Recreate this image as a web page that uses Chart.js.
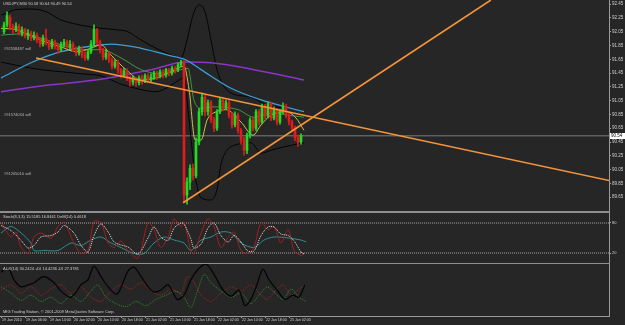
<!DOCTYPE html>
<html>
<head>
<meta charset="utf-8">
<script src="https://cdn.jsdelivr.net/npm/chart.js@4.4.1/dist/chart.umd.min.js"></script>
<style>
  html, body { margin: 0; padding: 0; background: #262626; }
  #wrap { position: relative; width: 625px; height: 325px; background: #262626; overflow: hidden;
          font-family: "Liberation Sans", Arial, sans-serif; }
  canvas { position: absolute; left: 0; }
  .sep { position: absolute; left: 0; width: 610px; background: #8e8e8e; }
  .txt { position: absolute; color: #cfcfcf; white-space: nowrap; font-size: 4px; line-height: 5px; }
</style>
</head>
<body>
<div id="wrap">
  <canvas id="mainChart" width="625" height="211" style="top:0px"></canvas>
  <div class="sep" style="top:211px;height:2px"></div>
  <canvas id="stochChart" width="625" height="50" style="top:213px"></canvas>
  <div class="sep" style="top:263px;height:1px"></div>
  <canvas id="adxChart" width="625" height="61" style="top:264px"></canvas>

  <div class="txt" style="left:3px;top:1px">USDJPY,M30 90.58 90.64 90.49 90.54</div>
  <div class="txt" style="left:4px;top:46px;color:#b8b8b8">#92558487 sell</div>
  <div class="txt" style="left:4px;top:112px;color:#b8b8b8">#91574034 sell</div>
  <div class="txt" style="left:4px;top:171px;color:#b8b8b8">#91205010 sell</div>
  <div class="txt" style="left:3px;top:214px">Stoch(8,3,3) 15.5185 16.8461 DeM(14) 0.4618</div>
  <div class="txt" style="left:3px;top:266px">ADX(14) 30.2424 +DI 14.4236 -DI 27.3781</div>
  <div class="txt" style="left:3px;top:309px">MIG Trading Station, © 2001-2009 MetaQuotes Software Corp.</div>
</div>
<script>
// --- data ---
const xTickLabels = ["19 Jan 2010", "19 Jan 06:00", "19 Jan 14:00", "20 Jan 02:00", "20 Jan 10:00",
  "20 Jan 18:00", "21 Jan 02:00", "21 Jan 10:00", "21 Jan 18:00", "22 Jan 02:00", "22 Jan 10:00",
  "22 Jan 18:00", "25 Jan 02:00"];
const BARS_PER_LABEL = 8;
const priceTicks = [92.45, 92.25, 92.05, 91.85, 91.65, 91.45, 91.25, 91.05, 90.85, 90.65, 90.45,
  90.25, 90.05, 89.85, 89.65];
const stochTicks = [80, 20];

const opens = [
  92.05, 92.15, 92.26, 92.12, 92.08, 92.13, 92.03, 92.08, 91.99, 92.03,
  91.96, 92.00, 91.93, 91.87, 91.96, 91.89, 91.83, 91.90, 91.84, 91.79,
  91.86, 91.90, 91.83, 91.87, 91.79, 91.74, 91.80, 91.71, 91.67, 91.76,
  91.87, 92.08, 91.90, 91.79, 91.68, 91.74, 91.64, 91.55, 91.61, 91.50,
  91.42, 91.48, 91.38, 91.32, 91.36, 91.31, 91.38, 91.34, 91.41, 91.35,
  91.39, 91.45, 91.41, 91.47, 91.42, 91.50, 91.45, 91.52, 91.50, 91.57,
  91.60, 89.68, 89.87, 90.07, 89.96, 90.45, 90.89, 91.10, 90.89, 91.02,
  90.77, 90.65, 90.89, 91.06, 90.94, 91.02, 90.84, 90.70, 90.84, 90.62,
  90.48, 90.33, 90.55, 90.77, 90.65, 90.89, 90.74, 90.97, 90.83, 91.00,
  90.80, 90.92, 90.74, 90.89, 90.97, 90.84, 90.74, 90.65, 90.51, 90.45];
const highs = [
  92.19, 92.34, 92.29, 92.16, 92.18, 92.16, 92.12, 92.10, 92.08, 92.06,
  92.05, 92.03, 91.97, 92.00, 92.09, 91.92, 91.94, 91.93, 91.87, 91.90,
  91.94, 91.93, 91.92, 91.90, 91.83, 91.84, 91.83, 91.76, 91.79, 91.92,
  92.15, 92.10, 91.93, 91.81, 91.79, 91.77, 91.67, 91.65, 91.64, 91.52,
  91.52, 91.51, 91.41, 91.41, 91.39, 91.41, 91.42, 91.44, 91.44, 91.44,
  91.48, 91.48, 91.50, 91.50, 91.52, 91.52, 91.55, 91.55, 91.60, 91.64,
  91.63, 89.93, 90.12, 90.13, 90.51, 90.94, 91.16, 91.13, 91.06, 91.05,
  90.81, 90.92, 91.10, 91.09, 91.06, 91.05, 90.87, 90.89, 90.87, 90.65,
  90.52, 90.58, 90.80, 90.81, 90.92, 90.92, 91.00, 91.00, 91.03, 91.03,
  90.96, 90.94, 90.92, 91.02, 91.00, 90.87, 90.77, 90.68, 90.55, 90.57];
const lows = [
  92.02, 92.12, 92.08, 92.03, 92.05, 92.00, 91.99, 91.96, 91.94, 91.92,
  91.93, 91.89, 91.83, 91.84, 91.86, 91.79, 91.80, 91.80, 91.74, 91.76,
  91.83, 91.80, 91.79, 91.76, 91.70, 91.71, 91.67, 91.63, 91.64, 91.73,
  91.84, 91.86, 91.74, 91.64, 91.65, 91.60, 91.51, 91.52, 91.45, 91.38,
  91.39, 91.34, 91.26, 91.28, 91.26, 91.28, 91.29, 91.31, 91.31, 91.32,
  91.36, 91.36, 91.38, 91.38, 91.39, 91.41, 91.42, 91.45, 91.47, 91.54,
  89.57, 89.55, 89.76, 89.90, 89.93, 90.41, 90.84, 90.83, 90.84, 90.73,
  90.60, 90.62, 90.86, 90.90, 90.92, 90.80, 90.65, 90.67, 90.58, 90.42,
  90.26, 90.28, 90.51, 90.61, 90.62, 90.70, 90.71, 90.78, 90.80, 90.76,
  90.77, 90.70, 90.71, 90.86, 90.80, 90.70, 90.61, 90.47, 90.39, 90.42];
const closes = [
  92.15, 92.28, 92.12, 92.08, 92.13, 92.03, 92.08, 91.99, 92.03, 91.96,
  92.00, 91.93, 91.87, 91.96, 91.89, 91.83, 91.90, 91.84, 91.79, 91.86,
  91.90, 91.83, 91.87, 91.79, 91.74, 91.80, 91.71, 91.67, 91.76, 91.87,
  92.08, 91.90, 91.79, 91.68, 91.74, 91.64, 91.55, 91.61, 91.50, 91.42,
  91.48, 91.38, 91.32, 91.36, 91.31, 91.38, 91.34, 91.41, 91.35, 91.39,
  91.45, 91.41, 91.47, 91.42, 91.50, 91.45, 91.52, 91.50, 91.57, 91.61,
  89.68, 89.87, 90.07, 89.96, 90.45, 90.89, 91.10, 90.89, 91.02, 90.77,
  90.65, 90.89, 91.06, 90.94, 91.02, 90.84, 90.70, 90.84, 90.62, 90.48,
  90.33, 90.55, 90.77, 90.65, 90.89, 90.74, 90.97, 90.83, 91.00, 90.80,
  90.92, 90.74, 90.89, 90.97, 90.84, 90.74, 90.65, 90.51, 90.45, 90.54];

// indicator lines: [bar, value]
const bbUpper = [[0, 92.29], [5, 92.37], [10, 92.38], [15, 92.34], [20, 92.22], [25, 92.16], [30, 92.12],
  [33.3, 92.10], [38.3, 92.08], [42.3, 92.05], [46.7, 91.93], [51.7, 91.81], [56.7, 91.71], [60, 91.67],
  [62, 91.93], [64, 92.29], [66, 92.44], [68, 92.34], [70, 91.93], [72, 91.50], [74, 91.28], [76.7, 91.16],
  [83.3, 91.10], [90, 90.97], [96.7, 90.94], [101, 90.89]];
const bbLower = [[0, 91.61], [6.7, 91.55], [13.3, 91.50], [20, 91.47], [26.7, 91.44], [33.3, 91.41],
  [40, 91.29], [46.7, 91.21], [51.7, 91.18], [55, 91.23], [58.3, 91.32], [61, 91.38], [62.7, 90.77],
  [64.7, 89.97], [66.7, 89.64], [70, 89.61], [72, 89.76], [73.3, 90.12], [75.3, 90.33], [78.3, 90.41],
  [83.3, 90.44], [86.7, 90.29], [90, 90.33], [94.3, 90.38], [101, 90.44]];
const maBlue = [[0, 91.38], [10, 91.60], [20, 91.76], [30, 91.84], [36.7, 91.87], [46.7, 91.81],
  [56.7, 91.70], [61.7, 91.64], [66.7, 91.50], [76.7, 91.23], [86.7, 91.06], [96.7, 90.94], [101, 90.89]];
const maPurple = [[0, 91.18], [16.7, 91.28], [33.3, 91.36], [50, 91.50], [61.7, 91.61], [70, 91.60],
  [84.3, 91.50], [101, 91.35]];
const maGreen = [[0, 92.00], [6.7, 92.02], [13.3, 91.96], [20, 91.86], [26.7, 91.79], [33.3, 91.79],
  [40, 91.67], [46.7, 91.50], [53.3, 91.44], [60, 91.50], [62.3, 91.52], [64.3, 91.06], [66.7, 90.94],
  [71, 90.96], [79, 90.92], [84.3, 90.81], [90, 90.87], [95.7, 90.84], [101, 90.81]];
const maYellow = [[0, 92.10], [5, 92.08], [10, 91.99], [15, 91.90], [20, 91.83], [25, 91.76], [30, 91.81],
  [33.3, 91.86], [36.7, 91.71], [41.7, 91.50], [46.7, 91.35], [51.7, 91.38], [56.7, 91.47], [61, 91.55],
  [62.7, 91.21], [64.7, 90.48], [66.7, 90.48], [68.7, 90.77], [71.7, 90.89], [75, 90.92], [80, 90.74],
  [84, 90.55], [86.7, 90.70], [90, 90.84], [95, 90.89], [98.3, 90.80], [101, 90.62]];
const trendDown = [[11.7, 91.67], [203, 89.89]];
const trendUp = [[60.7, 89.57], [163.3, 92.51]];
const bidPrice = 90.54;

const stochMain = [[0, 81], [3.3, 52], [5, 62], [6.7, 31], [9, 19], [11, 52], [13.3, 60], [16.7, 50],
  [19, 73], [21, 81], [24.3, 40], [26.7, 19], [29, 25], [31, 83], [33.3, 81], [35.7, 40], [37.7, 31],
  [40, 44], [42.3, 25], [45.7, 10], [49, 81], [51, 67], [53.3, 31], [55.7, 52], [57.7, 88], [60, 73],
  [61, 83], [63.3, 25], [64.3, 19], [66.7, 60], [69, 88], [71, 73], [73.3, 31], [75.7, 52], [77.7, 62],
  [80, 25], [82.3, 19], [84.3, 31], [86.7, 81], [89, 67], [91, 73], [93.3, 40], [95.7, 67], [97.7, 25],
  [100, 15], [101, 19]];
const stochSignal = [[0, 75], [3.3, 65], [6.7, 45], [9, 30], [11, 35], [13.3, 52], [16.7, 55], [19, 62],
  [21, 75], [24.3, 60], [26.7, 35], [29, 22], [31, 55], [33.3, 78], [35.7, 62], [37.7, 42], [40, 36],
  [42.3, 32], [45.7, 18], [49, 50], [51, 72], [53.3, 52], [55.7, 45], [57.7, 70], [60, 80], [61, 78],
  [63.3, 48], [64.3, 30], [66.7, 38], [69, 70], [71, 80], [73.3, 55], [75.7, 42], [77.7, 55], [80, 42],
  [82.3, 24], [84.3, 24], [86.7, 55], [89, 72], [91, 72], [93.3, 58], [95.7, 55], [97.7, 44], [100, 22],
  [101, 18]];
const demarker = [[0, 60], [3.3, 73], [6.7, 60], [10, 40], [11, 25], [14.3, 25], [19, 25], [23.3, 40],
  [26.7, 35], [30, 46], [33.3, 52], [36.7, 40], [40, 31], [44.3, 19], [47.7, 19], [51, 40], [54.3, 52],
  [57.7, 46], [61, 40], [63.3, 25], [66.7, 46], [70, 52], [73.3, 62], [76.7, 60], [80, 40], [84.3, 31],
  [87.7, 46], [91, 52], [95.7, 50], [100, 46], [101.7, 42]];

const adxMain = [[0, 42], [2.3, 47], [4.3, 35], [6.7, 28], [9, 30], [11, 32], [14.3, 38], [17.7, 32],
  [20, 24], [23.3, 18], [26.7, 30], [29, 35], [31, 48], [33.3, 38], [35.7, 28], [38.7, 21], [42.3, 43],
  [44.3, 47], [46.7, 38], [49, 28], [51, 23], [53.3, 25], [55.7, 30], [58.7, 16], [61, 20], [63.3, 35],
  [65.7, 45], [68.3, 50], [71, 40], [74, 25], [76.7, 19], [79.3, 25], [81.3, 10], [83.3, 16], [85.3, 30],
  [87.3, 45], [89.3, 35], [92, 25], [94.7, 16], [97.3, 20], [99.3, 18], [101.3, 30]];
const plusDI = [[0, 28], [3.3, 22], [6.7, 15], [10, 20], [13.3, 14], [16.7, 18], [20, 12], [23.3, 20],
  [26.7, 14], [30, 24], [32.3, 30], [35, 18], [38.3, 12], [41.7, 9], [45, 14], [48.3, 10], [51.7, 16],
  [55, 20], [58.3, 24], [61, 18], [63.3, 8], [65.7, 26], [67.7, 40], [70, 32], [73.3, 24], [76.7, 18],
  [80, 22], [83.3, 12], [86, 20], [88.7, 28], [91.3, 22], [94, 16], [96.7, 26], [99.3, 18], [101.7, 14]];
const minusDI = [[0, 25], [3.3, 30], [6.7, 22], [10, 28], [13.3, 20], [16.7, 26], [20, 30], [23.3, 22],
  [26.7, 28], [30, 18], [33.3, 14], [36.7, 24], [40, 30], [43.3, 26], [46.7, 32], [50, 24], [53.3, 20],
  [56.7, 26], [60, 22], [62, 38], [64, 34], [66.7, 20], [70, 14], [73.3, 22], [76.7, 28], [80, 24],
  [83.3, 30], [86, 22], [88.7, 16], [91.3, 24], [94, 30], [96.7, 20], [99.3, 26], [101.7, 30]];

// --- chart setup ---
Chart.defaults.font.family = '"Liberation Sans", Arial, sans-serif';
Chart.defaults.color = '#cfcfcf';

const X_MIN = -1 / 3;
const X_MAX = X_MIN + 203;
const AXIS_COLOR = '#9a9a9a';

const pts = arr => arr.map(([x, y]) => ({ x, y }));

function fitAxis(size) {
  return scale => {
    if (scale.isHorizontal()) scale.height = size; else scale.width = size;
    scale.paddingTop = 0; scale.paddingBottom = 0;
    scale.paddingLeft = 0; scale.paddingRight = 0;
  };
}

function lineSet(data, color, extra) {
  return Object.assign({
    type: 'line', data: pts(data), borderColor: color, borderWidth: 1,
    pointRadius: 0, cubicInterpolationMode: 'monotone', fill: false
  }, extra || {});
}

const baseOptions = {
  responsive: false, animation: false, devicePixelRatio: 1, events: [],
  layout: { padding: 0 },
  plugins: { legend: { display: false }, tooltip: { enabled: false } }
};

const hiddenX = {
  type: 'linear', display: false, min: X_MIN, max: X_MAX, offset: false, grid: { offset: false }
};

function rightAxis(extra, ticksOn = true) {
  return Object.assign({
    position: 'right',
    afterFit: fitAxis(16),
    grid: { display: true, drawOnChartArea: false, drawTicks: ticksOn, tickLength: 2, color: AXIS_COLOR },
    border: { display: true, color: AXIS_COLOR }
  }, extra);
}

// current price tag on the right axis
const priceTag = {
  id: 'priceTag',
  afterDraw(chart) {
    const last = closes[closes.length - 1];
    const y = chart.scales.y.getPixelForValue(last);
    const x0 = chart.chartArea.right + 1;
    const ctx = chart.ctx;
    ctx.save();
    ctx.fillStyle = '#ffffff';
    ctx.fillRect(x0, Math.round(y) - 3, 15, 6);
    ctx.fillStyle = '#000000';
    ctx.font = '4.5px "Liberation Sans"';
    ctx.textBaseline = 'middle';
    ctx.fillText(last.toFixed(2), x0 + 1, Math.round(y));
    ctx.restore();
  }
};

const bull = '#22dc22';
const bear = '#e01c1c';
const candleColors = closes.map((c, i) => (c >= opens[i] ? bull : bear));

new Chart(document.getElementById('mainChart'), {
  type: 'bar',
  data: {
    datasets: [
      lineSet(trendDown, '#f5953a', { order: 0, borderWidth: 1.6, cubicInterpolationMode: 'default', tension: 0 }),
      lineSet(trendUp, '#f5953a', { order: 0, borderWidth: 1.6, cubicInterpolationMode: 'default', tension: 0 }),
      {
        type: 'bar', order: 1, grouped: false, barThickness: 2, minBarLength: 1,
        data: closes.map((c, i) => ({ x: i + 1, y: [opens[i], c] })),
        backgroundColor: candleColors
      },
      {
        type: 'bar', order: 2, grouped: false, barThickness: 1,
        data: closes.map((c, i) => ({ x: i + 1, y: [lows[i], highs[i]] })),
        backgroundColor: candleColors
      },
      lineSet(maYellow, '#cfc24a', { order: 3 }),
      lineSet(maGreen, '#3f9a3f', { order: 3 }),
      lineSet(maBlue, '#3b9fd8', { order: 3, borderWidth: 1.3 }),
      lineSet(maPurple, '#8a34c8', { order: 3, borderWidth: 1.5 }),
      lineSet(bbUpper, '#050505', { order: 4 }),
      lineSet(bbLower, '#050505', { order: 4 }),
      lineSet([[X_MIN, bidPrice], [X_MAX, bidPrice]], '#7c7c7c', { order: 5, cubicInterpolationMode: 'default' })
    ]
  },
  options: Object.assign({}, baseOptions, {
    scales: {
      x: hiddenX,
      y: rightAxis({
        min: 89.45, max: 92.51, beginAtZero: false,
        afterBuildTicks: s => { s.ticks = priceTicks.map(v => ({ value: v })); },
        ticks: { font: { size: 4.5 }, color: '#d0d0d0', padding: 1, callback: v => v.toFixed(2) }
      })
    }
  }),
  plugins: [priceTag]
});

new Chart(document.getElementById('stochChart'), {
  type: 'line',
  data: {
    datasets: [
      lineSet(stochSignal, '#e6e6e6', { order: 0, borderDash: [1, 1], cubicInterpolationMode: 'default', tension: 0.3 }),
      lineSet(stochMain, '#a51e1e', { order: 1, cubicInterpolationMode: 'default', tension: 0.3 }),
      lineSet(demarker, '#2f8f8f', { order: 2, cubicInterpolationMode: 'default', tension: 0.3 }),
      ...stochTicks.map(v => lineSet([[X_MIN, v], [X_MAX, v]], '#a8a8a8',
        { order: 3, borderDash: [1, 1], cubicInterpolationMode: 'default' }))
    ]
  },
  options: Object.assign({}, baseOptions, {
    scales: {
      x: hiddenX,
      y: rightAxis({
        min: 0, max: 100,
        afterBuildTicks: s => { s.ticks = stochTicks.map(v => ({ value: v })); },
        ticks: { font: { size: 4 }, color: '#d0d0d0', padding: 1 }
      })
    }
  })
});

new Chart(document.getElementById('adxChart'), {
  type: 'line',
  data: {
    datasets: [
      lineSet(adxMain, '#050505', { order: 0, borderWidth: 1.3, cubicInterpolationMode: 'default', tension: 0.3 }),
      lineSet(plusDI, '#2f8a2f', { order: 1, borderDash: [1, 1], cubicInterpolationMode: 'default', tension: 0.3 }),
      lineSet(minusDI, '#a32323', { order: 1, borderDash: [1, 1], cubicInterpolationMode: 'default', tension: 0.3 })
    ]
  },
  options: Object.assign({}, baseOptions, {
    scales: {
      x: {
        type: 'linear', min: X_MIN, max: X_MAX, offset: false,
        afterFit: fitAxis(9),
        afterBuildTicks: s => {
          s.ticks = xTickLabels.map((_, k) => ({ value: k * BARS_PER_LABEL + 0.3 }));
        },
        ticks: {
          autoSkip: false, maxRotation: 0, align: 'start', padding: 0,
          font: { size: 3.6 }, color: '#d0d0d0',
          callback: (v, idx) => xTickLabels[idx]
        },
        grid: { display: true, offset: false, drawOnChartArea: false, drawTicks: true, tickLength: 2, color: AXIS_COLOR },
        border: { display: true, color: AXIS_COLOR }
      },
      y: rightAxis({
        min: 0, max: 50,
        ticks: { display: false }
      }, false)
    }
  })
});
</script>
</body>
</html>
